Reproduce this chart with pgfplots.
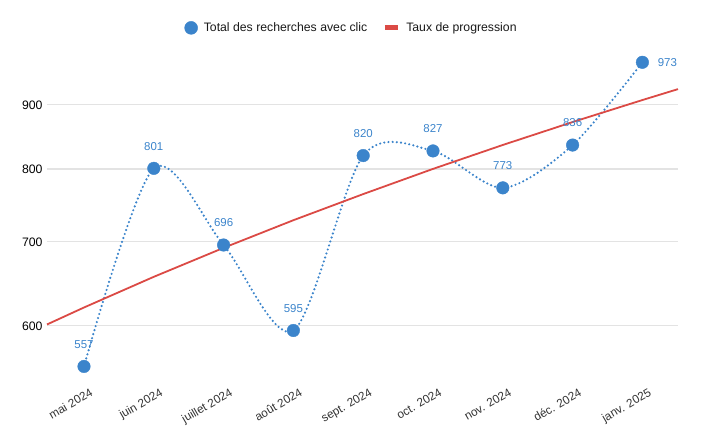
\documentclass[border=0pt]{standalone}
\usepackage{fontspec}
\setmainfont{Liberation Sans}
\usepackage{pgfplots}
\pgfplotsset{compat=1.18}
\definecolor{cblue}{HTML}{3B84CB}
\definecolor{cred}{HTML}{DB4A45}
\definecolor{cgrid}{HTML}{E3E3E3}
\definecolor{ctext}{HTML}{333333}
\begin{document}
\begin{tikzpicture}
\useasboundingbox (0,0) rectangle (701bp,433bp);
\begin{axis}[
  at={(47bp,49.6bp)}, anchor=south west,
  scale only axis, width=631bp, height=336bp,
  ymode=log, ymin=540, ymax=1000,
  xmin=-0.53, xmax=8.51,
  axis line style={draw=none},
  major tick length=0,
  ytick={600,700,800,900},
  yticklabels={600,700,800,900},
  yminorticks=false,
  ymajorgrids,
  grid style={cgrid, line width=1.2bp},
  yticklabel style={font=\fontsize{12.3}{14}\selectfont, text=black, anchor=east, xshift=-1bp},
  xtick={0,1,2,3,4,5,6,7,8},
  xticklabels={mai 2024, juin 2024, juillet 2024, août 2024, sept. 2024, oct. 2024, nov. 2024, déc. 2024, janv. 2025},
  xticklabel style={font=\fontsize{11.8}{14}\selectfont, text=ctext, rotate=30, anchor=north east, xshift=6bp, yshift=-3bp},
  legend style={at={(0.4826,1.058)}, anchor=center, legend columns=2, draw=none, fill=none,
    font=\fontsize{12.3}{14}\selectfont, text=black!90,
    /tikz/every even column/.append style={column sep=13bp},
    /tikz/every odd column/.append style={column sep=4bp}},
  legend cell align=left,
  clip=false,
]
\addplot[cblue, line width=2.4bp, dash pattern=on 0pt off 4.2bp, line cap=round, smooth, tension=0.5, forget plot]
  coordinates {(0,557) (1,801) (2,696) (3,595) (4,820) (5,827) (6,773) (7,836) (8,973)};
\addlegendimage{legend image code/.code={\fill[cblue] (6.5bp,0bp) circle (6.5bp);}}
\addlegendentry{Total des recherches avec clic}
\addplot[cred, line width=1.8bp, legend image code/.code={\draw[cred, line width=5bp] (0bp,0bp) -- (13bp,0bp);}]
  coordinates {(-0.53,601.6) (0,620.6) (1,656.5) (2,692.4) (3,728.4) (4,764.2) (5,800.2) (6,836.1) (7,872.0) (8,907.9) (8.51,926.3)};
\addlegendentry{Taux de progression}
\addplot[only marks, mark=*, mark size=6.3bp, cblue, forget plot,
  point meta=explicit symbolic, nodes near coords,
  every node near coord/.style={anchor=center, yshift=22bp, font=\fontsize{11.5}{13}\selectfont, text=cblue}]
  coordinates {(0,557) [557] (1,801) [801] (2,696) [696] (3,595) [595] (4,820) [820] (5,827) [827] (6,773) [773] (7,836) [836]};
\addplot[only marks, mark=*, mark size=6.3bp, cblue, forget plot,
  point meta=explicit symbolic, nodes near coords,
  every node near coord/.style={anchor=center, xshift=25bp, font=\fontsize{11.5}{13}\selectfont, text=cblue}]
  coordinates {(8,973) [973]};
\end{axis}
\end{tikzpicture}
\end{document}
